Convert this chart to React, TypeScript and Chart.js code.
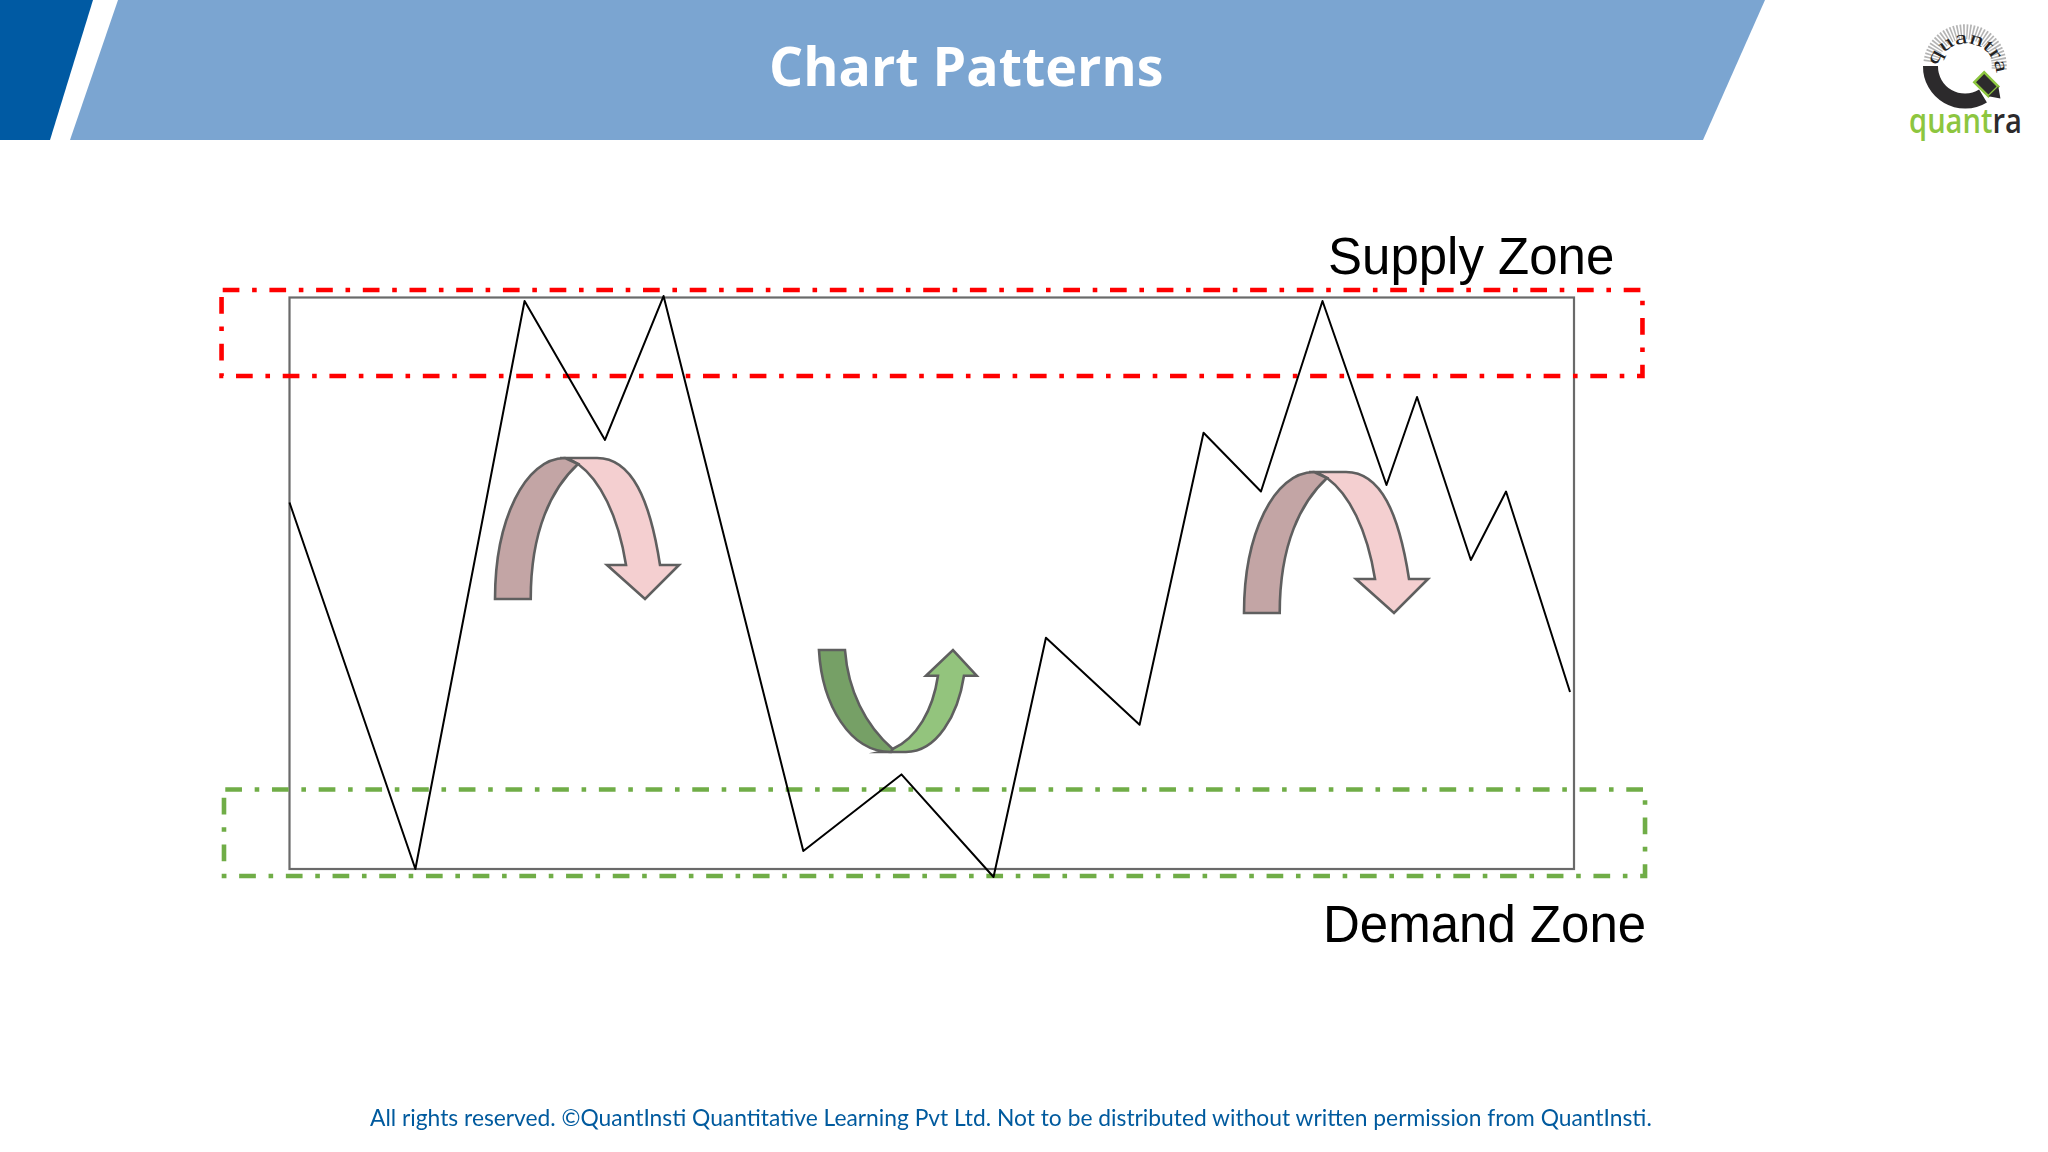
import React, { useEffect, useRef } from "react";
import { Chart, registerables } from "chart.js";

Chart.register(...registerables);

const titleText = "Chart Patterns";
const supplyLabel = "Supply Zone";
const demandLabel = "Demand Zone";
const footerText =
  "All rights reserved. ©QuantInsti Quantitative Learning Pvt Ltd. Not to be distributed without written permission from QuantInsti.";

// Price path, in percent of the frame's width and height
const pathX = [0, 9.8, 18.3, 24.56, 29.12, 40.0, 47.64, 54.81, 58.89, 66.18, 71.16, 75.63, 80.42, 85.4, 87.78, 91.97, 94.71, 99.69];
const pathY = [64.13, 0, 99.39, 75.07, 100.26, 3.15, 16.55, -1.4, 40.47, 25.23, 76.33, 66.05, 99.39, 67.19, 82.59, 54.07, 66.05, 30.97];

// Zones
const supplyX = [-5.2, 105.33, 105.33, -5.29, -5.29];
const supplyY = [101.3, 101.3, 86.27, 86.27, 101.3];
const demandX = [-5.0, 105.53, 105.53, -5.1, -5.1];
const demandY = [13.91, 13.91, -1.22, -1.22, 13.91];

// Top-left corners of the curved arrows
const downArrowX = [16.0, 74.31];
const downArrowY = [71.92, 69.47];
const upArrowX = [41.22];
const upArrowY = [38.32];

const pts = (xs: number[], ys: number[]) => xs.map((x, i) => ({ x, y: ys[i] }));

const arrowPlugin = {
  id: "curvedArrows",
  afterDatasetsDraw(chart: any) {
    const { ctx, scales } = chart;
    ctx.save();
    ctx.lineWidth = 2.6;
    ctx.strokeStyle = "#5f5f5f";
    ctx.lineJoin = "miter";
    downArrowX.forEach((ax, i) => {
      const ox = scales.x.getPixelForValue(ax);
      const oy = scales.y.getPixelForValue(downArrowY[i]);
      const back = new Path2D();
      back.moveTo(0, 141);
      back.bezierCurveTo(0, 62, 30, 0, 70, 0);
      back.lineTo(83, 6);
      back.bezierCurveTo(57, 30, 35.7, 72, 35.7, 141);
      back.closePath();
      const front = new Path2D();
      front.moveTo(65, 0);
      front.lineTo(102, 0);
      front.bezierCurveTo(137, 0, 155, 42, 165, 107);
      front.lineTo(184, 107);
      front.lineTo(150, 141);
      front.lineTo(112, 107);
      front.lineTo(131, 107);
      front.bezierCurveTo(123, 57, 105, 22, 83, 6);
      front.bezierCurveTo(77, 2, 71, 0, 65, 0);
      front.closePath();
      ctx.save();
      ctx.translate(ox, oy);
      ctx.fillStyle = "#f4cfd0";
      ctx.fill(front);
      ctx.stroke(front);
      ctx.fillStyle = "#c3a5a5";
      ctx.fill(back);
      ctx.stroke(back);
      ctx.restore();
    });
    upArrowX.forEach((ax, i) => {
      const ox = scales.x.getPixelForValue(ax);
      const oy = scales.y.getPixelForValue(upArrowY[i]);
      const back = new Path2D();
      back.moveTo(0, 0);
      back.lineTo(26, 0);
      back.bezierCurveTo(29, 40, 46, 75, 73.7, 99);
      back.lineTo(72, 102);
      back.bezierCurveTo(31, 102, 3, 55, 0, 0);
      back.closePath();
      const front = new Path2D();
      front.moveTo(73.7, 99);
      front.bezierCurveTo(98, 88, 114, 60, 119, 25.7);
      front.lineTo(107, 25.7);
      front.lineTo(134, 0);
      front.lineTo(157.7, 25.7);
      front.lineTo(145, 25.7);
      front.bezierCurveTo(139, 65, 118, 102, 87, 102);
      front.lineTo(61, 102);
      front.closePath();
      ctx.save();
      ctx.translate(ox, oy);
      ctx.fillStyle = "#93c47d";
      ctx.fill(front);
      ctx.stroke(front);
      ctx.fillStyle = "#76a066";
      ctx.fill(back);
      ctx.stroke(back);
      ctx.restore();
    });
    ctx.restore();
  },
};

const framePlugin = {
  id: "frame",
  beforeDatasetsDraw(chart: any) {
    const { ctx, chartArea: a } = chart;
    ctx.save();
    ctx.strokeStyle = "#6a6a6a";
    ctx.lineWidth = 2.2;
    ctx.strokeRect(a.left, a.top, a.right - a.left, a.bottom - a.top);
    ctx.restore();
  },
};

const abs = (s: React.CSSProperties): React.CSSProperties => ({ position: "absolute", whiteSpace: "nowrap", ...s });

function Logo() {
  return (
    <svg width={168} height={160} viewBox="0 0 168 160" style={{ position: "absolute", left: 1880, top: 0 }}>
      <defs>
        <path id="ringArc" d="M 57 66 A 30 30 0 0 1 116 72" fill="none" />
      </defs>
      <path d="M 51 62 A 34 34 0 0 1 119 70" fill="none" stroke="#b4b4b4" strokeWidth="15" strokeDasharray="1.5 1.5" />
      <text fontFamily="Liberation Serif" fontSize="19" fill="#222">
        <textPath href="#ringArc" textLength="86" lengthAdjust="spacingAndGlyphs">quantra</textPath>
      </text>
      <path d="M 50.5 66 A 34.5 34.5 0 0 0 103 96" fill="none" stroke="#2c2a2c" strokeWidth="15" />
      <g transform="rotate(-45 107 85)">
        <rect x="100" y="74" width="14" height="20" fill="#2c2a2c" stroke="#8dc63f" strokeWidth="2.5" />
        <path d="M 100 94 L 107 104 L 114 94 Z" fill="#2c2a2c" />
      </g>
      <text x="29" y="133" fontFamily="Open Sans" fontWeight="600" fontSize="34" textLength="113" lengthAdjust="spacingAndGlyphs" fill="#2c2a2c">
        <tspan fill="#8dc63f">quant</tspan>ra
      </text>
    </svg>
  );
}

export default function App() {
  const canvasRef = useRef<HTMLCanvasElement | null>(null);

  useEffect(() => {
    const chart = new Chart(canvasRef.current!, {
      type: "scatter",
      data: {
        datasets: [
          { data: pts(pathX, pathY), showLine: true, borderColor: "#000000", borderWidth: 2, pointRadius: 0, tension: 0, clip: false, order: 0, borderJoinStyle: "round" },
          { data: pts(supplyX, supplyY), showLine: true, borderColor: "#ff0000", borderWidth: 4.6, pointRadius: 0, tension: 0, clip: false, order: 1, borderDash: [16.7, 12.7, 4.6, 12.7] },
          { data: pts(demandX, demandY), showLine: true, borderColor: "#70ad47", borderWidth: 4.6, pointRadius: 0, tension: 0, clip: false, order: 1, borderDash: [16.7, 12.7, 4.6, 12.7] },
        ],
      } as any,
      options: {
        animation: false,
        responsive: false,
        devicePixelRatio: 1,
        layout: { padding: { left: 289.5, top: 297.5, right: 474, bottom: 283 } },
        plugins: { legend: { display: false }, tooltip: { enabled: false }, title: { display: false } },
        scales: {
          x: { type: "linear", min: 0, max: 100, display: false },
          y: { type: "linear", min: 0, max: 100, display: false },
        },
      } as any,
      plugins: [framePlugin, arrowPlugin],
    });
    return () => chart.destroy();
  }, []);

  return (
    <div style={{ position: "absolute", left: 0, top: 0, width: 2048, height: 1152, background: "#ffffff", overflow: "hidden" }}>
      <div style={abs({ left: 0, top: 0, width: 93, height: 140, background: "#005aa3", clipPath: "polygon(0 0, 93px 0, 50px 140px, 0 140px)" })} />
      <div style={abs({ left: 70, top: 0, width: 1696, height: 140, background: "#7ba5d1", clipPath: "polygon(48px 0, 1695px 0, 1633px 140px, 0 140px)" })} />
      <div style={abs({ left: 769, top: 39, fontFamily: "'Open Sans'", fontWeight: 700, fontSize: 53.7, lineHeight: "53px", color: "#ffffff" })}>{titleText}</div>
      <Logo />
      <canvas ref={canvasRef} width={2048} height={1152} style={{ position: "absolute", left: 0, top: 0, width: 2048, height: 1152 }} />
      <div style={abs({ left: 1328, top: 231, fontFamily: "'Liberation Sans'", fontSize: 51, lineHeight: "51px", color: "#000000" })}>{supplyLabel}</div>
      <div style={abs({ left: 1323, top: 898.5, fontFamily: "'Liberation Sans'", fontSize: 51, lineHeight: "51px", color: "#000000" })}>{demandLabel}</div>
      <div style={abs({ left: 370, top: 1105.6, fontFamily: "Lato", fontSize: 22.8, lineHeight: "23px", color: "#005a9e" })}>{footerText}</div>
    </div>
  );
}
